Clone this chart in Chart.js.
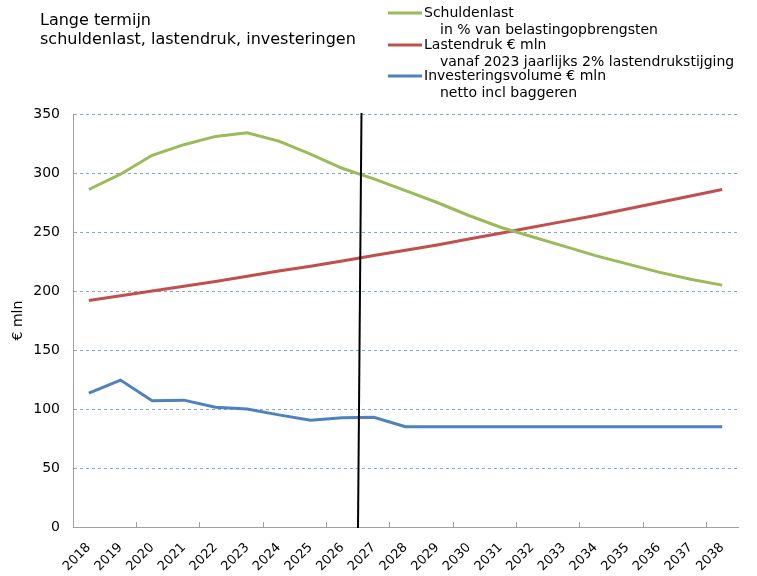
<!DOCTYPE html>
<html>
<head>
<meta charset="utf-8">
<script src="https://cdn.jsdelivr.net/npm/chart.js@4/dist/chart.umd.min.js"></script>
<style>
  html, body { margin: 0; padding: 0; background: #fff; }
  #wrap { width: 757px; height: 576px; position: relative; }
</style>
</head>
<body>
<div id="wrap"><canvas id="chart"></canvas></div>
<script>
const years = ['2018', '2019', '2020', '2021', '2022', '2023', '2024', '2025', '2026', '2027', '2028',
    '2029', '2030', '2031', '2032', '2033', '2034', '2035', '2036', '2037', '2038']
const schuldenlast = [286, 299, 315, 324, 331, 334, 327, 316, 304, 295, 285,
    275, 264, 254, 246, 238, 230, 223, 216, 210, 205]
const lastendruk = [192, 196, 200, 204, 208, 212.5, 217, 221, 225.5, 230, 234.5,
    239, 244, 249, 254, 259, 264, 269.5, 275, 280.5, 286]
const investeringen = [113.5, 124.5, 107, 107.5, 101.5, 100, 95, 90.5, 92.5, 93, 85,
    85, 85, 85, 85, 85, 85, 85, 85, 85, 85]
const yTicks = { min: 0, max: 350, step: 50 }

const titleLines = ['Lange termijn', 'schuldenlast, lastendruk, investeringen']
const legendSub = ['in % van belastingopbrengsten', 'vanaf 2023 jaarlijks 2% lastendrukstijging', 'netto incl baggeren']

const font = 'DejaVu Sans'
const grey = '#a0a0a0'

// titel en legenda zelf tekenen (legenda heeft een tweede regel per reeks)
const decor = {
    id: 'decor',
    afterDraw(chart) {
        const c = chart.ctx
        c.save()
        c.fillStyle = '#000'
        c.textBaseline = 'middle'
        c.font = '16px ' + font
        c.fillText(titleLines[0], 40, 21)
        c.fillText(titleLines[1], 40, 40)

        c.font = '14px ' + font
        const rows = [13, 45, 76]
        chart.data.datasets.forEach((ds, i) => {
            const y = rows[i]
            c.strokeStyle = ds.borderColor
            c.lineWidth = 3
            c.beginPath()
            c.moveTo(388, y)
            c.lineTo(422, y)
            c.stroke()
            c.fillText(ds.label, 424, y)
            c.fillText(legendSub[i], 440, y + 17)
        })
        c.restore()
    },
    afterDatasetsDraw(chart) {
        // zwarte scheidingslijn tussen 2026 en 2027
        const x = chart.scales.x
        const area = chart.chartArea
        const c = chart.ctx
        c.save()
        c.strokeStyle = '#000'
        c.lineWidth = 2
        c.beginPath()
        c.moveTo(x.getPixelForValue(8.61), area.top - 1)
        c.lineTo(x.getPixelForValue(8.5), area.bottom + 1)
        c.stroke()
        c.restore()
    }
}

new Chart(document.getElementById('chart'), {
    type: 'line',
    data: {
        labels: years,
        datasets: [
            { label: 'Schuldenlast', data: schuldenlast, borderColor: '#9bbb59' },
            { label: 'Lastendruk € mln', data: lastendruk, borderColor: '#c0504d' },
            { label: 'Investeringsvolume € mln', data: investeringen, borderColor: '#4f81bd' },
        ]
    },
    options: {
        responsive: true,
        maintainAspectRatio: false,
        animation: false,
        layout: {
            padding: { top: 114, right: 19, left: 0, bottom: 0 }
        },
        elements: {
            point: { radius: 0 },
            line: { borderWidth: 3, tension: 0 }
        },
        scales: {
            x: {
                offset: true,
                afterFit: (s) => { s.height = 49 },
                grid: {
                    offset: true,
                    drawOnChartArea: false,
                    tickLength: -5,
                    tickColor: (ctx) => (ctx.index > 0 && ctx.index < years.length && ctx.index % 2 === 0) ? grey : 'rgba(0,0,0,0)',
                },
                border: { color: grey, width: 1 },
                ticks: {
                    autoSkip: false,
                    minRotation: 45,
                    maxRotation: 45,
                    padding: 18,
                    color: '#000',
                    font: { family: font, size: 13 },
                }
            },
            y: {
                min: yTicks.min,
                max: yTicks.max,
                afterFit: (s) => { s.width = 73 },
                grid: {
                    drawTicks: false,
                    color: (ctx) => ctx.tick && ctx.tick.value === 0 ? 'rgba(0,0,0,0)' : '#7ea6d8',
                },
                border: { color: grey, width: 1, dash: [3, 3] },
                ticks: {
                    stepSize: yTicks.step,
                    padding: 13,
                    color: '#000',
                    font: { family: font, size: 14 },
                },
                title: {
                    display: true,
                    text: '€ mln',
                    color: '#000',
                    font: { family: font, size: 14 },
                    padding: { top: 10, bottom: 0 },
                }
            }
        },
        plugins: {
            legend: { display: false },
            tooltip: { enabled: false },
        }
    },
    plugins: [decor]
})
</script>
</body>
</html>
